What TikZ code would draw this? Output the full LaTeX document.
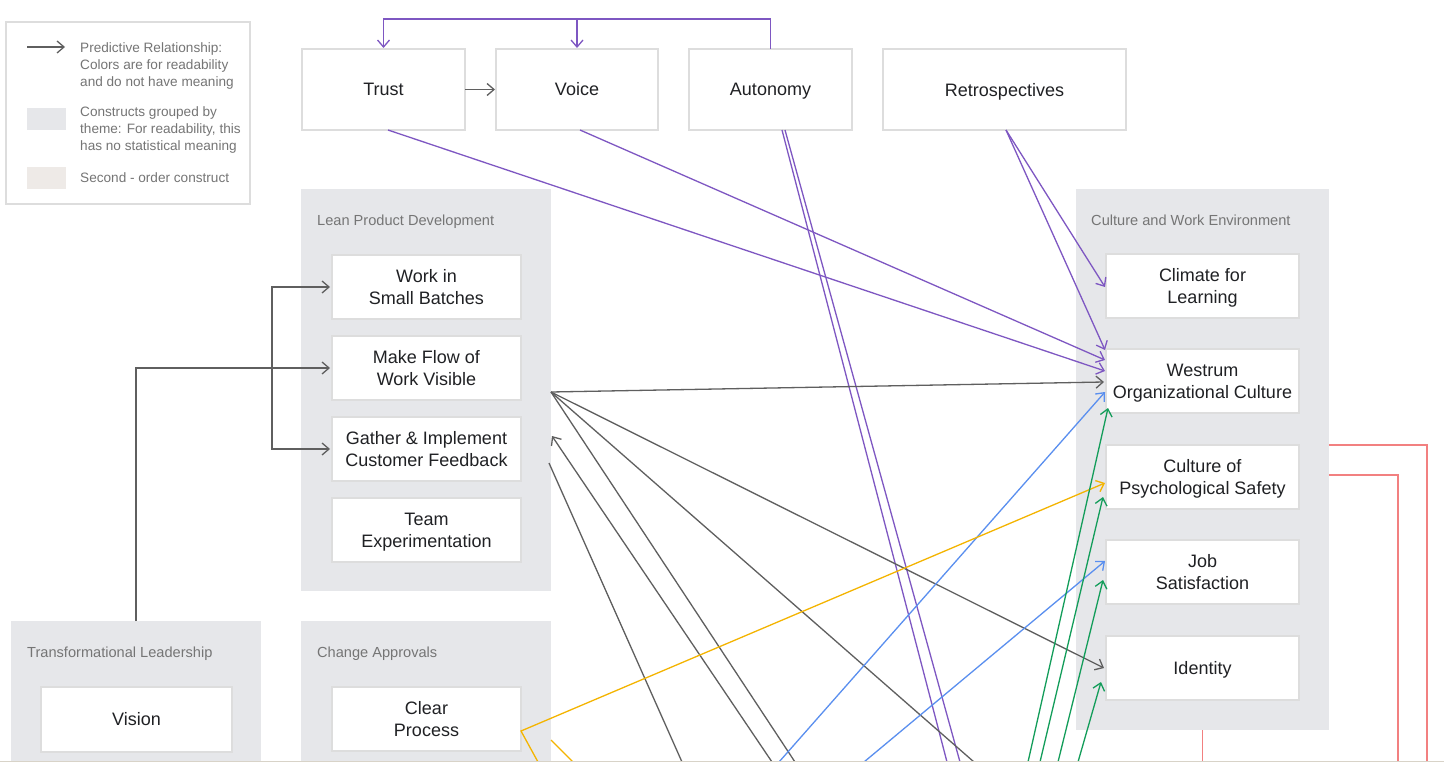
\documentclass[tikz,border=0pt]{standalone}
\usepackage{fontspec}
\setmainfont{Liberation Sans}
\usetikzlibrary{arrows.meta}
\definecolor{grp}{HTML}{E6E7EA}
\definecolor{warm}{HTML}{EEEAE7}
\definecolor{bord}{HTML}{DDDDDD}
\definecolor{ntext}{HTML}{202124}
\definecolor{ltext}{HTML}{757575}
\definecolor{cpurp}{HTML}{7E57C2}
\definecolor{cgray}{HTML}{5F5F5F}
\definecolor{cblue}{HTML}{5A8FEF}
\definecolor{cyel}{HTML}{F4B400}
\definecolor{cgreen}{HTML}{139D5A}
\definecolor{cred}{HTML}{F28080}
\definecolor{bline}{HTML}{D8D3C8}
\begin{document}
\begin{tikzpicture}[x=1pt,y=-1pt,
  grpbox/.style={fill=grp,draw=none,inner sep=0,outer sep=0,anchor=north west},
  cbox/.style={draw=bord,line width=1.6pt,fill=white,inner sep=0,outer sep=0,align=center,text=ntext,font=\fontsize{18}{22}\selectfont},
  sbox/.style={cbox,minimum width=189,minimum height=64},
  rbox/.style={cbox,minimum width=193,minimum height=64},
  tbox/.style={cbox,minimum height=81},
  glabel/.style={anchor=base west,inner sep=0,text=ltext,font=\fontsize{14.6}{17}\selectfont},
  legtext/.style={anchor=west,inner sep=0,text=ltext,align=left,font=\fontsize{13.6}{16.8}\selectfont},
  tipped/.style={-{Straight Barb[length=7pt,width=12pt]}},
  pline/.style={draw=cpurp,line width=1.3pt},
  gline/.style={draw=cgray,line width=1.3pt},
  bline2/.style={draw=cblue,line width=1.3pt},
  yline/.style={draw=cyel,line width=1.3pt},
  grline/.style={draw=cgreen,line width=1.3pt},
  rline/.style={draw=cred,line width=1.2pt}
]
\useasboundingbox (0,0) rectangle (1444,762);
\fill[white] (0,0) rectangle (1444,762);

% legend
\node[draw=bord,line width=1.6pt,fill=white,minimum width=244,minimum height=182,inner sep=0,anchor=north west] (legend) at (5,21) {};
\coordinate (la) at (27,47);
\coordinate (lb) at (65,47);
\draw[gline,tipped] (la) -- (lb);
\node[legtext] (lt1) at (80,66) {Predictive Relationship:\\Colors are for readability\\and do not have meaning};
\node[fill=grp,minimum width=39,minimum height=22,inner sep=0,anchor=north west] (sw1) at (27,108) {};
\node[legtext] (lt2) at (80,130) {Constructs grouped by\\theme: For readability, this\\has no statistical meaning};
\node[fill=warm,minimum width=39,minimum height=22,inner sep=0,anchor=north west] (sw2) at (27,167) {};
\node[legtext] (lt3) at (80,178) {Second - order construct};

% groups
\node[grpbox,minimum width=250,minimum height=402] (lean) at (301,189) {};
\node[glabel] (leanl) at (317,226) {Lean Product Development};
\node[grpbox,minimum width=253,minimum height=541] (cwe) at (1076,189) {};
\node[glabel] (cwel) at (1091,226) {Culture and Work Environment};
\node[grpbox,minimum width=250,minimum height=141] (tl) at (11,621) {};
\node[glabel] (tll) at (27,657) {Transformational Leadership};
\node[grpbox,minimum width=250,minimum height=141] (ca) at (301,621) {};
\node[glabel] (cal) at (317,657) {Change Approvals};

% top boxes
\node[tbox,minimum width=163] (trust) at (383.5,89.5) {Trust};
\node[tbox,minimum width=162] (voice) at (577,89.5) {Voice};
\node[tbox,minimum width=163,text depth=0pt] (auto) at (770.5,89.5) {Autonomy};
\node[tbox,minimum width=243,text depth=0pt] (retro) at (1004.5,89.5) {Retrospectives};

% lean boxes
\node[sbox] (work) at (426.5,287) {Work in\\Small Batches};
\node[sbox] (flow) at (426.5,368) {Make Flow of\\Work Visible};
\node[sbox] (gather) at (426.5,449) {Gather \& Implement\\Customer Feedback};
\node[sbox] (team) at (426.5,530) {Team\\\smash{Experimentation}};

% culture boxes
\node[rbox] (climate) at (1202.5,286) {Climate for\\\smash{Learning}};
\node[rbox] (westrum) at (1202.5,381) {Westrum\\\smash{Organizational Culture}};
\node[rbox] (psych) at (1202.5,477) {Culture of\\\smash{Psychological Safety}};
\node[rbox] (job) at (1202.5,572) {Job\\Satisfaction};
\node[rbox,text depth=0pt] (ident) at (1202.5,668) {Identity};

% bottom boxes
\node[cbox,minimum width=191,minimum height=65] (vision) at (136.5,719.5) {Vision};
\node[cbox,minimum width=189,minimum height=64] (clear) at (426.5,719) {Clear\\Process};

% off-image coordinates
\coordinate (pa1) at (947,762);
\coordinate (pa2) at (960,762);
\coordinate (g1) at (974,762);
\coordinate (g2) at (795,762);
\coordinate (g3) at (772,762);
\coordinate (g4) at (682,762);
\coordinate (b1) at (779,762);
\coordinate (b2) at (864,762);
\coordinate (y1) at (538,762);
\coordinate (y2) at (573,762);
\coordinate (gr1) at (1028,762);
\coordinate (gr2) at (1040,762);
\coordinate (gr3) at (1058,762);
\coordinate (gr4) at (1078,762);
\coordinate (r1) at (1427,762);
\coordinate (r2) at (1398,762);
\coordinate (r3) at (1202.5,762);
\coordinate (br) at (272,368);

% purple
\coordinate (ab) at ([yshift=30]auto.north);
\draw[pline,tipped] (auto.north) -- (ab) -| ([yshift=1]trust.north);
\draw[pline,tipped] (voice.north |- ab) -- ([yshift=1]voice.north);
\draw[pline,tipped] ([xshift=4.5]trust.south) -- ([xshift=-1,yshift=10]westrum.west);
\draw[pline,tipped] ([xshift=3]voice.south) -- ([xshift=-1,yshift=21]westrum.west);
\draw[pline,tipped] ([xshift=1.5]retro.south) -- ([xshift=-1,yshift=-1]climate.west);
\draw[pline,tipped] ([xshift=1.5]retro.south) -- ([xshift=-1,yshift=-1]westrum.north west);
\draw[pline] ([xshift=11.5]auto.south) -- (pa1);
\draw[pline] ([xshift=14.5]auto.south) -- (pa2);

% gray
\draw[gline,tipped] (trust.east) -- ([xshift=-1]voice.west);
\draw[gline,tipped] (tl.north) |- ([xshift=-2]flow.west);
\draw[gline,tipped] (br) |- ([xshift=-2]work.west);
\draw[gline,tipped] (br) |- ([xshift=-2]gather.west);
\coordinate (lo) at ([yshift=-2]lean.east);
\draw[gline,tipped] (lo) -- ([xshift=-2,yshift=-1]westrum.west);
\draw[gline,tipped] (lo) -- ([xshift=-2]ident.west);
\draw[gline] (lo) -- (g1);
\draw[gline] (lo) -- (g2);
\draw[gline,tipped] (g3) -- ([xshift=1,yshift=-46]lean.east);
\draw[gline] ([xshift=-2,yshift=-73]lean.east) -- (g4);

% blue
\draw[bline2,tipped] (b1) -- ([xshift=-1,yshift=-11]westrum.west);
\draw[bline2,tipped] (b2) -- ([xshift=-1,yshift=11]job.west);

% yellow
\draw[yline,tipped] (y1) -- ([yshift=-12]clear.east) -- ([xshift=-1,yshift=-6]psych.west);
\draw[yline] ([yshift=-48.5]ca.east) -- (y2);

% green
\draw[grline,tipped] (gr1) -- ([xshift=2,yshift=5]westrum.south west);
\draw[grline,tipped] (gr2) -- ([xshift=-3,yshift=-20]psych.west);
\draw[grline,tipped] (gr3) -- ([xshift=-3,yshift=-8]job.west);
\draw[grline,tipped] (gr4) -- ([xshift=-5,yshift=-14]ident.west);

% red
\draw[rline] ([yshift=14.5]cwe.east) -| (r1);
\draw[rline] ([yshift=-15.5]cwe.east) -| (r2);
\draw[rline] (cwe.south) -- (r3);

% bottom edge
\draw[draw=bline,line width=1.5pt] (0,761.5) -- (1444,761.5);
\end{tikzpicture}
\end{document}
